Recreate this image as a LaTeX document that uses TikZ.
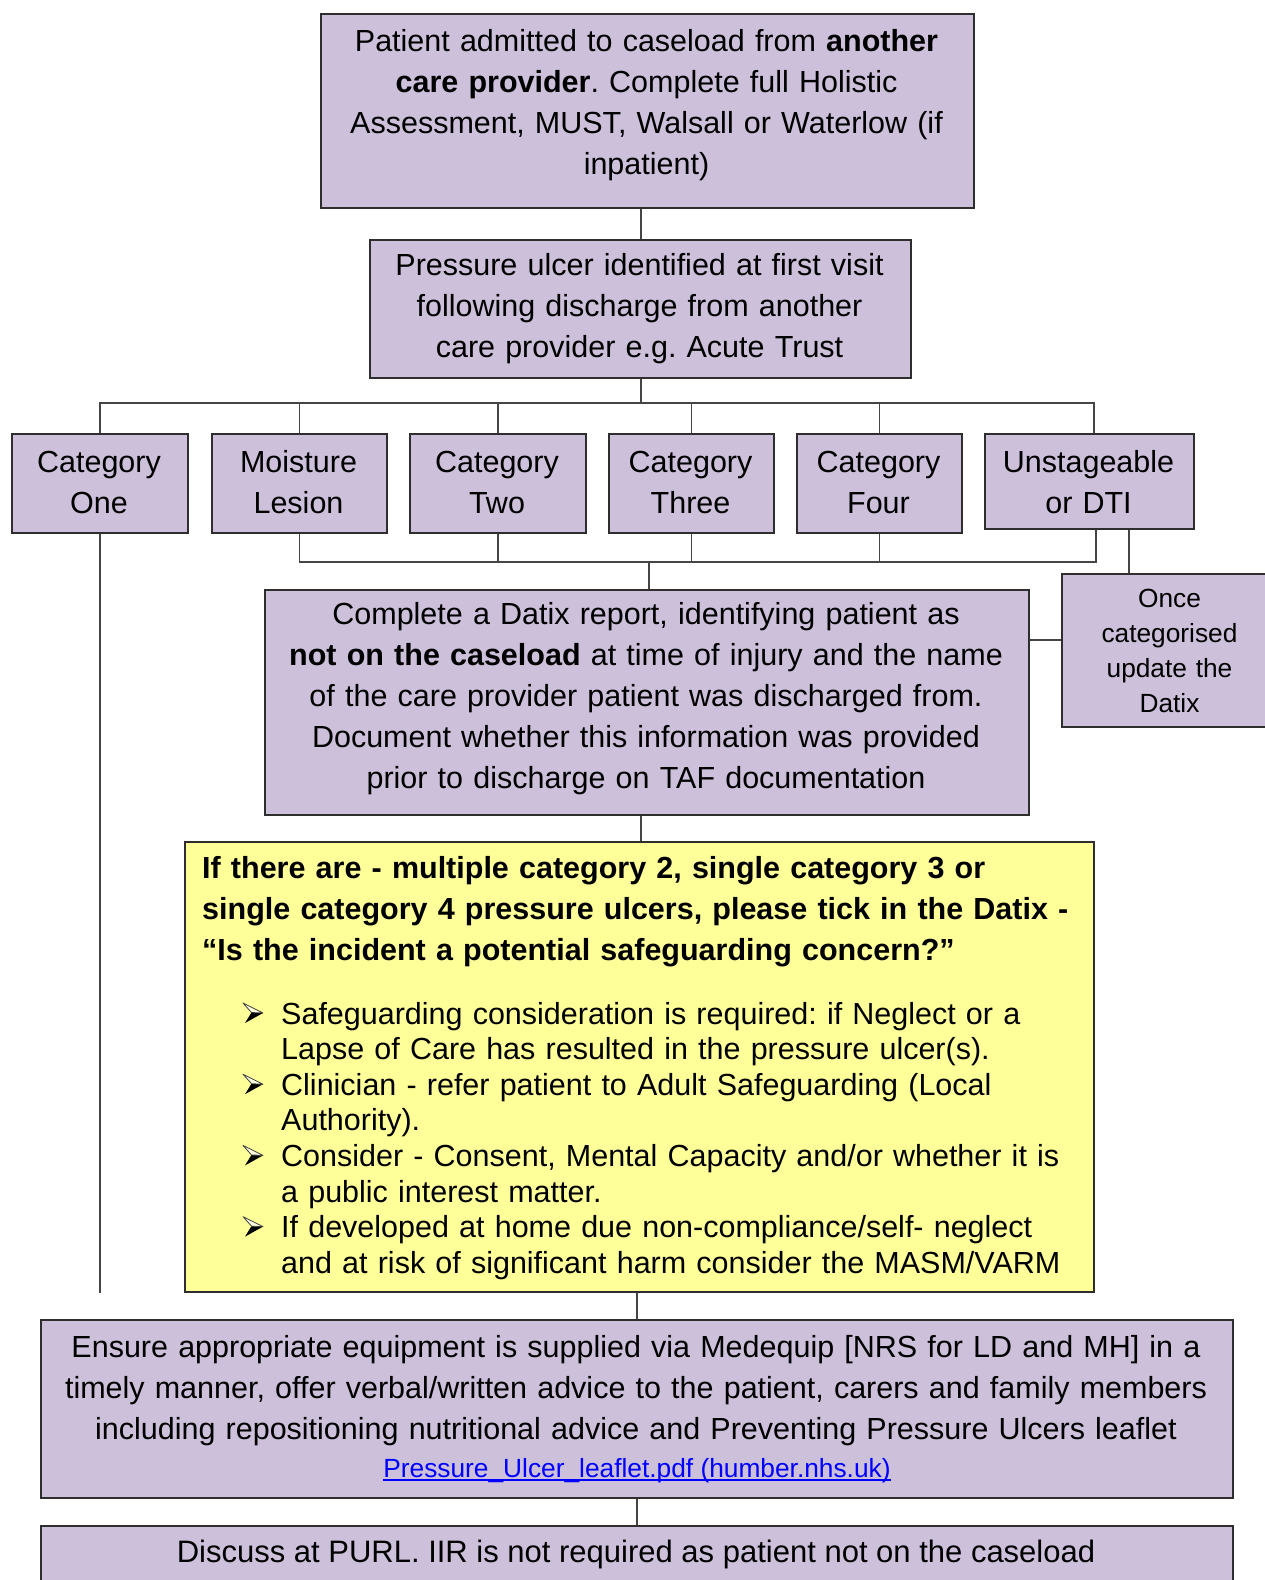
\documentclass[tikz,border=0pt]{standalone}
\usepackage{fontspec}
\setmainfont{Liberation Sans}
\usetikzlibrary{calc}

\definecolor{lav}{HTML}{CCC0DA}
\definecolor{pale}{HTML}{FFFF99}
\definecolor{edge}{HTML}{2E2E2E}
\definecolor{wire}{HTML}{454545}
\definecolor{linkblue}{HTML}{0000FF}

% type sizes (1pt = one unit of the drawing)
\newcommand\mainsize{\fontsize{30.5}{41}\selectfont\frenchspacing}
\newcommand\widesize{\fontsize{31}{41}\selectfont\frenchspacing}
\newcommand\smallsize{\fontsize{26.3}{35}\selectfont\frenchspacing}
\newcommand\listsize{\fontsize{30.5}{35.6}\selectfont\frenchspacing}
\newcommand\hangline{\hspace*{38pt}}
\newcommand\linkline[1]{\setbox0\hbox{#1}\rlap{\rule[-3.5pt]{\wd0}{1.3pt}}\box0}

\begin{document}
\begin{tikzpicture}[x=1pt,y=-1pt,
  box/.style={draw=edge,line width=1.6pt,fill=lav,rectangle,inner sep=0pt,anchor=north west},
  note/.style={box,fill=pale},
  txt/.style={anchor=base,align=center,inner sep=0pt,font=\mainsize},
  conn/.style={draw=wire,line width=1.4pt}]
\useasboundingbox (0,0) rectangle (1265,1580);

% boxes
\node[box,minimum width=653pt,minimum height=194pt] (admit) at (320,13) {};
\node[box,minimum width=541pt,minimum height=138pt] (pu) at (369,239) {};
\node[box,minimum width=176pt,minimum height=99pt] (c1) at (11,433) {};
\node[box,minimum width=175pt,minimum height=99pt] (c2) at (211,433) {};
\node[box,minimum width=176pt,minimum height=99pt] (c3) at (409,433) {};
\node[box,minimum width=165pt,minimum height=99pt] (c4) at (608,433) {};
\node[box,minimum width=165pt,minimum height=99pt] (c5) at (796,433) {};
\node[box,minimum width=209pt,minimum height=95pt] (c6) at (984,433) {};
\node[box,minimum width=217pt,minimum height=153pt] (once) at (1061,573) {};
\node[box,minimum width=764pt,minimum height=225pt] (datix) at (264,589) {};
\node[note,minimum width=909pt,minimum height=450pt] (safe) at (184,841) {};
\node[box,minimum width=1192pt,minimum height=178pt] (ensure) at (40,1319) {};
\node[box,minimum width=1192pt,minimum height=80pt] (discuss) at (40,1525) {};

% junction points of the connectors
\coordinate (hub) at (641,403);
\coordinate (busR) at (1094,403);
\coordinate (lowJ) at (649,562);
\coordinate (lowR) at (1096,562);
\coordinate (sideDrop) at (1129,550);
\coordinate (sideLink) at (1040,640);

% connectors
\draw[conn] (admit.south -| hub) -- (pu.north -| hub);
\draw[conn] (pu.south -| hub) -- (hub);
\draw[conn] (c1.north) -- (c1.north |- hub) -- (busR) -- (busR |- c6.north);
\foreach \c in {c2,c3,c4,c5} \draw[conn] (\c.north) -- (\c.north |- hub);
\draw[conn] (c2.south) -- (c2.south |- lowJ) -- (lowR) -- (lowR |- c6.south);
\foreach \c in {c3,c4,c5} \draw[conn] (\c.south) -- (\c.south |- lowJ);
\draw[conn] (lowJ) -- (lowJ |- datix.north);
\draw[conn] (c6.south -| sideDrop) -- (once.north -| sideDrop);
\draw[conn] (datix.east |- sideLink) -- (once.west |- sideLink);
\draw[conn] (datix.south -| hub) -- (safe.north -| hub);
\draw[conn] (c1.south) -- (c1.south |- safe.south);
\draw[conn] (safe.south -| ensure.north) -- (ensure.north);
\draw[conn] (ensure.south) -- (discuss.north);

% texts
\node[txt,text width=645pt] (admitT) at (646.5,51)
  {Patient admitted to caseload from \textbf{another}\\
   \textbf{care provider}. Complete full Holistic\\
   Assessment, MUST, Walsall or Waterlow (if\\
   inpatient)};
\node[txt,text width=535pt] (puT) at (639.5,275)
  {Pressure ulcer identified at first visit\\
   following discharge from another\\
   care provider e.g. Acute Trust};
\node[txt,text width=170pt] (c1T) at (99,472) {Category\\One};
\node[txt,text width=170pt] (c2T) at (298.5,472) {Moisture\\Lesion};
\node[txt,text width=170pt] (c3T) at (497,472) {Category\\Two};
\node[txt,text width=160pt] (c4T) at (690.5,472) {Category\\Three};
\node[txt,text width=160pt] (c5T) at (878.5,472) {Category\\Four};
\node[txt,text width=205pt] (c6T) at (1088.5,472) {Unstageable\\or DTI};
\node[txt,font=\smallsize,text width=205pt] (onceT) at (1169.5,607)
  {Once\\categorised\\update the\\Datix};
\node[txt,text width=760pt] (datixT) at (646,624)
  {Complete a Datix report, identifying patient as\\
   \textbf{not on the caseload} at time of injury and the name\\
   of the care provider patient was discharged from.\\
   Document whether this information was provided\\
   prior to discharge on TAF documentation};
\node[txt,anchor=base west,align=left,text width=890pt,font=\mainsize\bfseries] (safeHead) at (202,878)
  {If there are - multiple category 2, single category 3 or\\
   single category 4 pressure ulcers, please tick in the Datix -\\
   “Is the incident a potential safeguarding concern?”};
\node[txt,anchor=base west,align=left,text width=880pt,font=\listsize] (safeList) at (243,1024)
  {\hangline Safeguarding consideration is required: if Neglect or a\\
   \hangline Lapse of Care has resulted in the pressure ulcer(s).\\
   \hangline Clinician - refer patient to Adult Safeguarding (Local\\
   \hangline Authority).\\
   \hangline Consider - Consent, Mental Capacity and/or whether it is\\
   \hangline a public interest matter.\\
   \hangline If developed at home due non-compliance/self- neglect\\
   \hangline and at risk of significant harm consider the MASM/VARM};

% arrowhead bullets of the list (lower facet dark, upper facet light)
\foreach \b in {1024,1095.2,1166.4,1237.6} {
  \fill[black] (245,\b-1) -- (251.5,\b-11.5) -- (263,\b-11) -- cycle;
  \draw[black!75,line width=0.8pt,fill=white!70!pale,line join=round]
    (243,\b-21) -- (263,\b-11) -- (251.5,\b-11.5) -- cycle;
}

\node[txt,text width=1230pt] (ensureT) at (636,1357)
  {Ensure appropriate equipment is supplied via Medequip [NRS for LD and MH] in a\\
   timely manner, offer verbal/written advice to the patient, carers and family members\\
   including repositioning nutritional advice and Preventing Pressure Ulcers leaflet};
\node[txt,font=\smallsize,text=linkblue] (leaflet) at (637,1477)
  {\linkline{Pressure\_Ulcer\_leaflet.pdf (humber.nhs.uk)}};
\node[txt,font=\widesize] (discussT) at (636,1562)
  {Discuss at PURL. IIR is not required as patient not on the caseload};
\end{tikzpicture}
\end{document}
